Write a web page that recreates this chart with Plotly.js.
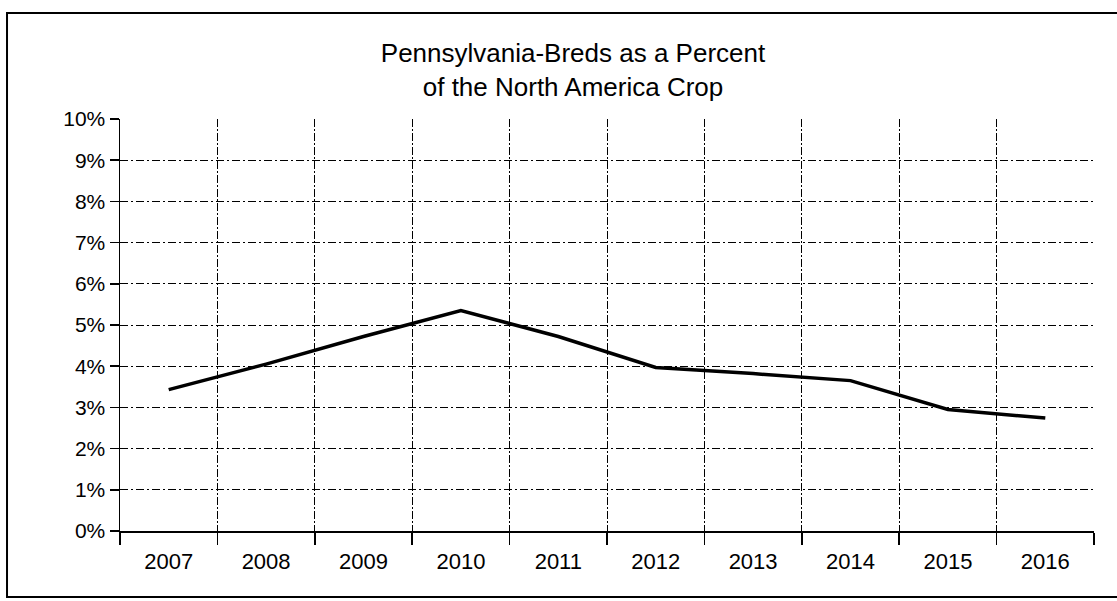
<!DOCTYPE html>
<html>
<head>
<meta charset="utf-8">
<script src="https://cdn.plot.ly/plotly-3.0.1.min.js"></script>
<style>
  html, body { margin: 0; padding: 0; background: #ffffff; }
  #chart { width: 1117px; height: 601px; }
</style>
</head>
<body>
<div id="chart"></div>
<script>
// ---- data ----
const years = ["2007", "2008", "2009", "2010", "2011", "2012", "2013", "2014", "2015", "2016"];
const paBredPercent = [3.43, 4.05, 4.72, 5.35, 4.72, 3.97, 3.82, 3.65, 2.95, 2.74];
const yTickValues = [0, 1, 2, 3, 4, 5, 6, 7, 8, 9, 10];
const yTickLabels = ["0%", "1%", "2%", "3%", "4%", "5%", "6%", "7%", "8%", "9%", "10%"];
const chartTitle = "Pennsylvania-Breds as a Percent<br>of the North America Crop";

const FONT = "Liberation Sans, Arial, Helvetica, sans-serif";

const trace = {
  type: "scatter",
  mode: "lines",
  x: years,
  y: paBredPercent,
  line: { color: "#000000", width: 3.5 },
  hoverinfo: "x+y"
};

const layout = {
  width: 1117,
  height: 601,
  paper_bgcolor: "#ffffff",
  plot_bgcolor: "#ffffff",
  margin: { l: 120, r: 23, t: 119, b: 70, pad: 0 },
  showlegend: false,
  font: { family: FONT, color: "#000000" },
  title: {
    text: chartTitle,
    font: { family: FONT, size: 26, color: "#000000" },
    x: 0.513, xref: "container", xanchor: "center",
    y: 0.897, yref: "container", yanchor: "top"
  },
  xaxis: {
    type: "category",
    range: [-0.5, years.length - 0.5],
    tickson: "boundaries",
    ticks: "outside",
    ticklen: 12,
    tickwidth: 1.5,
    tickcolor: "#000000",
    ticklabelstandoff: 10,
    showline: true,
    linecolor: "#000000",
    linewidth: 1.5,
    showgrid: true,
    gridcolor: "#000000",
    gridwidth: 1,
    griddash: "8px,2px,2px,2px",
    tickfont: { family: FONT, size: 22, color: "#000000" },
    zeroline: false,
    fixedrange: true
  },
  yaxis: {
    range: [0, 10],
    tickvals: yTickValues,
    ticktext: yTickLabels,
    ticks: "outside",
    ticklen: 9,
    tickwidth: 1.5,
    tickcolor: "#000000",
    showline: true,
    linecolor: "#000000",
    linewidth: 1.5,
    showgrid: true,
    gridcolor: "#000000",
    gridwidth: 1,
    griddash: "8px,3px,2px,3px",
    tickfont: { family: FONT, size: 21, color: "#000000" },
    zeroline: false,
    fixedrange: true
  },
  shapes: [
    {
      type: "rect", xref: "paper", yref: "paper",
      x0: -0.116, x1: 1.04, y0: -0.160, y1: 1.257,
      line: { color: "#000000", width: 2 },
      fillcolor: "rgba(0,0,0,0)",
      layer: "below"
    }
  ]
};

Plotly.newPlot("chart", [trace], layout, { displayModeBar: false, staticPlot: true });
</script>
</body>
</html>
